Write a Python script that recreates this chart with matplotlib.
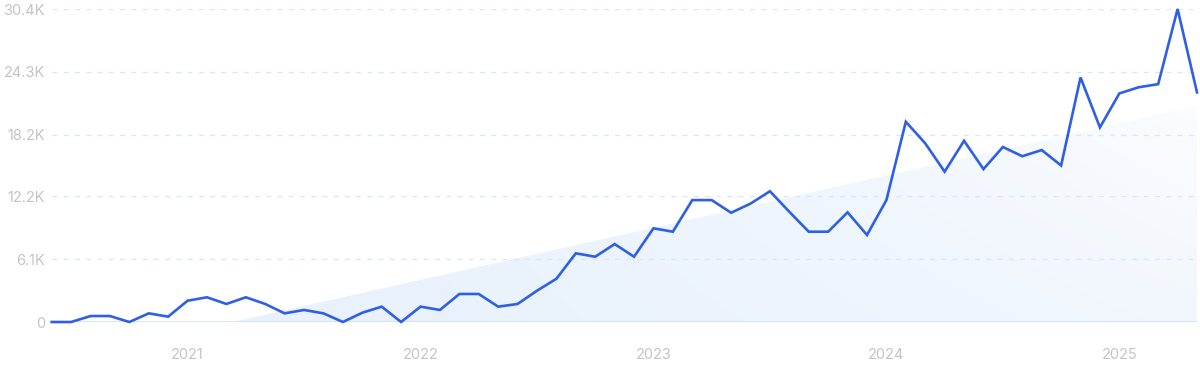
import numpy as np
import matplotlib
matplotlib.use("Agg")
import matplotlib.pyplot as plt
from matplotlib.patches import Polygon

# Monthly values, Jun 2020 .. May 2025 (in thousands)
months = [f"{y}-{m:02d}" for y in range(2020, 2026) for m in range(1, 13)]
months = months[5:5 + 60]
values = [0, 0, 0.58, 0.58, 0, 0.84, 0.52,
          2.07, 2.4, 1.75, 2.4, 1.75, 0.84, 1.17, 0.84, 0, 0.9, 1.49, 0,
          1.49, 1.17, 2.72, 2.72, 1.49, 1.75, 3.04, 4.2, 6.67, 6.34, 7.57, 6.34,
          9.1, 8.77, 11.84, 11.84, 10.61, 11.5, 12.7, 10.7, 8.77, 8.77, 10.65, 8.45,
          11.84, 19.45, 17.35, 14.6, 17.6, 14.85, 17.0, 16.1, 16.7, 15.2, 23.75, 18.9,
          22.2, 22.8, 23.1, 30.4, 22.3]
year_labels = ["2021", "2022", "2023", "2024", "2025"]
year_idx = [months.index(f"{y}-01") for y in year_labels]
ytick_vals = [0, 6.1, 12.2, 18.2, 24.3, 30.4]
ytick_labels = ["0", "6.1K", "12.2K", "18.2K", "24.3K", "30.4K"]

x = np.arange(len(values))
vals = np.array(values)

fig = plt.figure(figsize=(12, 3.71), dpi=100)
ax = fig.add_axes([51.7 / 1200, 49 / 371, 1145.3 / 1200, 313 / 371])
ax.set_xlim(0, len(values) - 1)
ax.set_ylim(0, 30.4)

# trend line (least squares), clipped at zero
slope, intercept = np.polyfit(x, vals, 1)
t = np.linspace(0, len(values) - 1, 400)
trend = np.clip(slope * t + intercept, 0, None)
poly_pts = np.vstack([np.column_stack([t, trend]),
                      [[t[-1], 0], [t[0], 0]]])

# gradient image
nx, ny = 400, 100
gx = np.linspace(0, 1, nx)[None, :]
gy = np.linspace(0, 1, ny)[:, None]  # 0 bottom -> 1 top
c0 = np.array([0.90, 0.94, 0.99])
c1 = np.array([1.0, 1.0, 1.0])
w = np.clip(0.15 + 0.85 * gx - 0.35 * (1 - gy) * gx, 0, 1)
w = w ** 1.6
img = c0[None, None, :] * (1 - w[..., None]) + c1[None, None, :] * w[..., None]
im = ax.imshow(img, extent=[0, len(values) - 1, 0, 30.4], origin="lower",
               aspect="auto", zorder=1, interpolation="bilinear")
patch = Polygon(poly_pts, closed=True, facecolor="none", edgecolor="none")
ax.add_patch(patch)
im.set_clip_path(patch)

# gridlines
for v in ytick_vals[1:]:
    ax.axhline(v, color="#d9e6fa", lw=0.9, ls=(0, (4, 5)), zorder=2)
ax.axhline(0, color="#cfe2fb", lw=1.2, zorder=2)

ax.plot(x, vals, color="#2f5fe3", lw=1.9, zorder=3, clip_on=False,
        solid_joinstyle="miter")

for s in ax.spines.values():
    s.set_visible(False)
ax.set_yticks(ytick_vals)
ax.set_yticklabels(ytick_labels)
ax.set_xticks(year_idx)
ax.set_xticklabels(year_labels)
ax.tick_params(axis="both", length=0, colors="#c3c3cb", labelsize=10.5)
ax.tick_params(axis="y", pad=5)
ax.tick_params(axis="x", pad=19)
for lab in ax.get_xticklabels() + ax.get_yticklabels():
    lab.set_fontfamily("Inter")

fig.savefig("out.png", dpi=100)
